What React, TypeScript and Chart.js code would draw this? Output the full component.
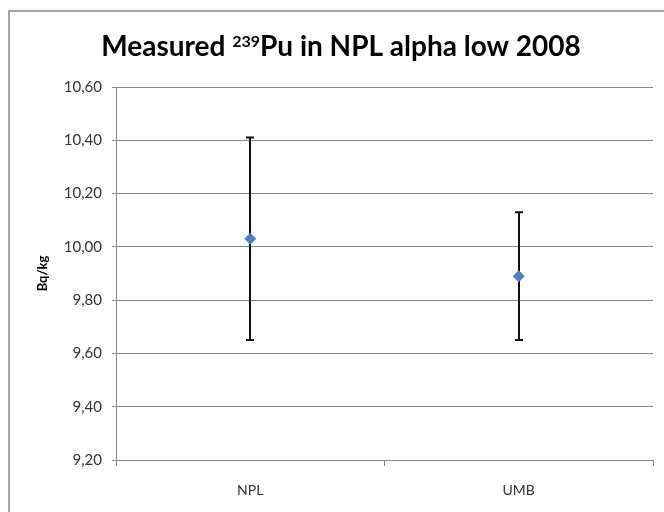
import React, { useRef, useEffect } from "react";
import { Chart, registerables, Plugin } from "chart.js";

Chart.register(...registerables);

// data
const categories = ["NPL", "UMB"];
const measured = [10.03, 9.89];
const uncertainty = [0.38, 0.24];

const yMin = 9.2;
const yMax = 10.6;
const yStep = 0.2;

const titleBefore = "Measured ";
const titleSup = "239";
const titleAfter = "Pu in NPL alpha low 2008";
const yAxisTitle = "Bq/kg";

const FONT = "Lato, 'Open Sans', sans-serif";

// frame around the whole chart (like the Excel chart area) + the title with a superscript
const frameAndTitle: Plugin<"line"> = {
	id: "frameAndTitle",
	beforeDraw(chart) {
		const { ctx } = chart;
		ctx.save();
		ctx.fillStyle = "#ffffff";
		ctx.fillRect(0, 0, chart.width, chart.height);
		ctx.strokeStyle = "#878787";
		ctx.lineWidth = 1.5;
		ctx.strokeRect(9, 11, chart.width + 20, chart.height + 20);
		ctx.restore();
	},
	afterDraw(chart) {
		const { ctx } = chart;
		ctx.save();
		const big = `bold 28px ${FONT}`;
		const small = `bold 16px ${FONT}`;
		ctx.font = big;
		const w1 = ctx.measureText(titleBefore).width;
		const w3 = ctx.measureText(titleAfter).width;
		ctx.font = small;
		const w2 = ctx.measureText(titleSup).width;
		const total = w1 + w2 + w3;
		const baseline = 56;
		let x = 341 - total / 2;
		ctx.fillStyle = "#000000";
		ctx.textBaseline = "alphabetic";
		ctx.textAlign = "left";
		ctx.font = big;
		ctx.fillText(titleBefore, x, baseline);
		x += w1;
		ctx.font = small;
		ctx.fillText(titleSup, x, baseline - 9);
		x += w2;
		ctx.font = big;
		ctx.fillText(titleAfter, x, baseline);
		ctx.restore();
	},
};

// vertical error bars, drawn under the diamond markers
const errorBars: Plugin<"line"> = {
	id: "errorBars",
	beforeDatasetsDraw(chart) {
		const { ctx } = chart;
		const x = chart.scales.x;
		const y = chart.scales.y;
		ctx.save();
		ctx.strokeStyle = "#111111";
		ctx.lineWidth = 2;
		measured.forEach((v, i) => {
			const px = Math.round(x.getPixelForValue(i));
			const top = y.getPixelForValue(v + uncertainty[i]);
			const bottom = y.getPixelForValue(v - uncertainty[i]);
			ctx.beginPath();
			ctx.moveTo(px, top);
			ctx.lineTo(px, bottom);
			ctx.moveTo(px - 4, top);
			ctx.lineTo(px + 4, top);
			ctx.moveTo(px - 4, bottom);
			ctx.lineTo(px + 4, bottom);
			ctx.stroke();
		});
		ctx.restore();
	},
};

function PuChart() {
	const chartRef = useRef<HTMLCanvasElement>(null);
	const chartInstance = useRef<Chart<"line"> | null>(null);

	useEffect(() => {
		if (chartInstance.current) {
			chartInstance.current.destroy();
			chartInstance.current = null;
		}
		const ctx = chartRef.current?.getContext("2d");
		if (!ctx) return;

		chartInstance.current = new Chart(ctx, {
			type: "line",
			data: {
				labels: categories,
				datasets: [
					{
						label: "Measured",
						data: measured,
						showLine: false,
						pointStyle: "rectRot",
						pointRadius: 6,
						pointHoverRadius: 6,
						pointBackgroundColor: "#4F81BD",
						pointBorderColor: "#4F81BD",
						pointBorderWidth: 0,
					},
				],
			},
			options: {
				animation: false,
				responsive: true,
				maintainAspectRatio: false,
				layout: { padding: { left: 9, right: 11, top: 87, bottom: 0 } },
				plugins: {
					legend: { display: false },
					title: { display: false },
					tooltip: { enabled: false },
				},
				scales: {
					x: {
						type: "category",
						offset: true,
						grid: {
							offset: true,
							drawOnChartArea: false,
							drawTicks: true,
							tickLength: 6,
							color: "#878787",
						},
						border: { display: true, color: "#878787" },
						ticks: {
							padding: 16,
							color: "#333333",
							font: { family: FONT, size: 14 },
						},
						afterFit(scale) {
							scale.height = 52;
						},
					},
					y: {
						min: yMin,
						max: yMax,
						grid: { color: "#878787", tickLength: 4 },
						border: { display: true, color: "#878787" },
						ticks: {
							stepSize: yStep,
							padding: 10,
							color: "#333333",
							font: { family: FONT, size: 15 },
							callback: (v) => Number(v).toFixed(2).replace(".", ","),
						},
						title: {
							display: true,
							text: yAxisTitle,
							color: "#000000",
							font: { family: FONT, size: 13, weight: "bold" },
							padding: { top: 26, bottom: 0 },
						},
						afterFit(scale) {
							scale.width = 107;
						},
					},
				},
			},
			plugins: [frameAndTitle, errorBars],
		});

		return () => {
			if (chartInstance.current) {
				chartInstance.current.destroy();
				chartInstance.current = null;
			}
		};
	}, []);

	return (
		<div style={{ position: "absolute", left: 0, top: 0, width: 664, height: 512 }}>
			<canvas ref={chartRef}></canvas>
		</div>
	);
}

export default function App() {
	return <PuChart />;
}
